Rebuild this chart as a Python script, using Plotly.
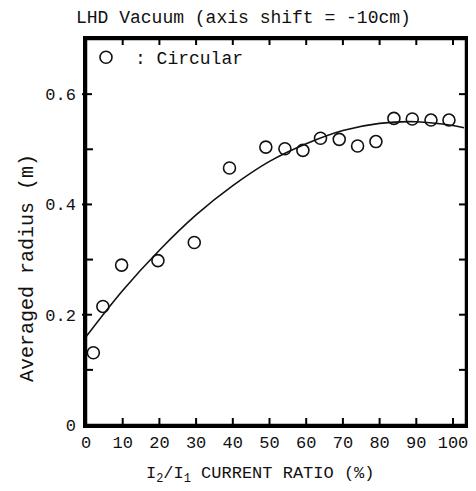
import plotly.graph_objects as go

# Measured points (I2/I1 current ratio %, averaged radius m)
ratio = [2, 4.6, 9.7, 19.6, 29.5, 39.1, 49.0, 54.2, 59.1, 63.9, 69.0, 74.0, 79.0, 83.9, 88.9, 94.0, 98.9]
radius = [0.131, 0.215, 0.290, 0.298, 0.331, 0.466, 0.504, 0.501, 0.498, 0.520,
          0.518, 0.506, 0.514, 0.556, 0.555, 0.553, 0.553]

# Fitted curve
curve_x = [0, 10, 20, 30, 40, 50, 60, 70, 80, 90, 100, 103]
curve_y = [0.160, 0.244, 0.317, 0.381, 0.434, 0.478, 0.510, 0.534, 0.547, 0.550, 0.543, 0.539]

# Tick values
x_ticks = [10, 20, 30, 40, 50, 60, 70, 80, 90, 100]
y_major = [0.2, 0.4, 0.6]
y_minor = [0.1, 0.3, 0.5]

title_text = "LHD Vacuum (axis shift = -10cm)"
x_title = "I<sub>2</sub>/I<sub>1</sub> CURRENT RATIO (%)"
y_title = "Averaged radius (m)"
legend_name = "\u2002: Circular"

FONT = "Liberation Mono, DejaVu Sans Mono, monospace"
INK = "#111111"

# page body has an 8px default margin: keep the figure inside the 476x491 window
OFF = 8
W, H = 476 - 2 * OFF, 491 - 2 * OFF
L, R, T, B = 86 - OFF, 2, 39 - OFF, (OFF + H) - 425
PW, PH = W - L - R, H - T - B
X0PX = 86.0                      # page x of ratio 0
PX_PER_UNIT = 3.67
XMAX = (OFF + L + PW - X0PX) / PX_PER_UNIT
FX, FY = 1.0 / PW, 1.0 / PH      # one pixel in paper units


def px_x(px):
    return (px - X0PX) / PW


def px_y(py):
    return (425 - py) / PH


fig = go.Figure()
fig.add_trace(go.Scatter(
    x=curve_x, y=curve_y, mode="lines", line=dict(color=INK, width=1.6, shape="spline"),
    showlegend=False, hoverinfo="skip"))
fig.add_trace(go.Scatter(
    x=ratio, y=radius, mode="markers", name=legend_name,
    marker=dict(symbol="circle-open", size=12, color=INK, line=dict(width=1.6, color=INK)),
    showlegend=True, cliponaxis=False))

fig.update_layout(
    width=W, height=H,
    margin=dict(l=L, r=R, t=T, b=B, autoexpand=False),
    paper_bgcolor="white", plot_bgcolor="white",
    font=dict(family=FONT, size=17, color=INK),
    legend=dict(x=0.0, y=1.0, xanchor="left", yanchor="top", bgcolor="rgba(0,0,0,0)",
                font=dict(family=FONT, size=18, color=INK), borderwidth=0),
    xaxis=dict(range=[0, XMAX], tick0=0, dtick=10, ticks="",
               showline=True, linecolor="black", linewidth=2.5, mirror=True,
               showgrid=False, zeroline=False, ticklabeloverflow="allow",
               tickfont=dict(family=FONT, size=17, color=INK)),
    yaxis=dict(range=[0, 0.7], tick0=0, dtick=0.2, ticks="",
               showline=True, linecolor="black", linewidth=2.5, mirror=True,
               showgrid=False, zeroline=False, ticklabelstandoff=4,
               tickfont=dict(family=FONT, size=17, color=INK)),
)

tick_line = dict(color="black", width=2)
# frame
fig.add_shape(type="rect", xref="paper", yref="paper", x0=0, x1=1, y0=0, y1=1,
              line=dict(color="black", width=2.5), layer="above")
# x ticks (bottom and top, pointing inward)
for v in x_ticks:
    fig.add_shape(type="line", xref="x", yref="paper", x0=v, x1=v, y0=0, y1=7 * FY,
                  line=tick_line, layer="above")
    fig.add_shape(type="line", xref="x", yref="paper", x0=v, x1=v, y0=1, y1=1 - 6 * FY,
                  line=tick_line, layer="above")
# y ticks: left majors cross the axis, left minors inward, right all inward
for v in y_major:
    fig.add_shape(type="line", xref="paper", yref="y", x0=-4 * FX, x1=6 * FX, y0=v, y1=v,
                  line=tick_line, layer="above")
for v in y_minor:
    fig.add_shape(type="line", xref="paper", yref="y", x0=0, x1=7 * FX, y0=v, y1=v,
                  line=tick_line, layer="above")
for v in y_major + y_minor:
    fig.add_shape(type="line", xref="paper", yref="y", x0=1 - 7 * FX, x1=1, y0=v, y1=v,
                  line=tick_line, layer="above")

fig.add_annotation(text=title_text, xref="paper", yref="paper", x=px_x(243.5),
                   y=px_y(18), xanchor="center", yanchor="middle",
                   showarrow=False, font=dict(family=FONT, size=18, color=INK))
fig.add_annotation(text=x_title, xref="paper", yref="paper", x=px_x(260),
                   y=px_y(475), xanchor="center", yanchor="middle",
                   showarrow=False, font=dict(family=FONT, size=17, color=INK))
fig.add_annotation(text=y_title, xref="paper", yref="paper", x=px_x(27),
                   y=px_y(268), xanchor="center", yanchor="middle", textangle=-90,
                   showarrow=False, font=dict(family=FONT, size=20, color=INK))

fig.write_html("out.html")
